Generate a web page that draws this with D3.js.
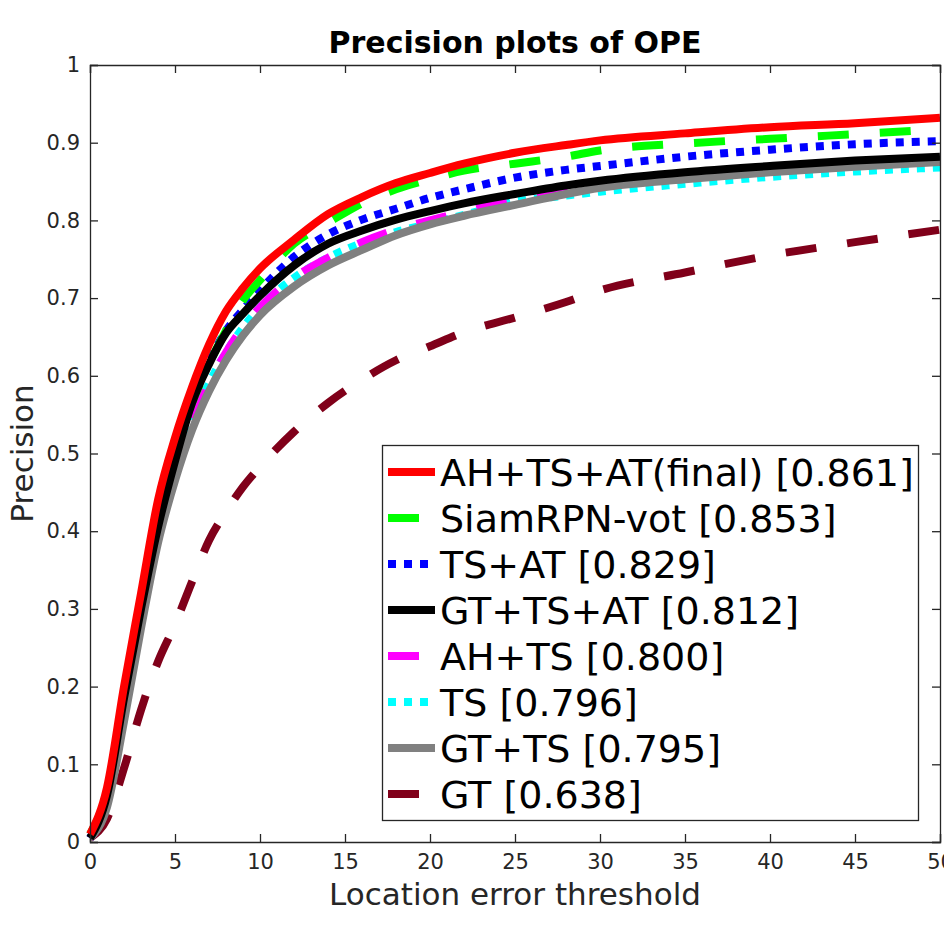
<!DOCTYPE html>
<html>
<head>
<meta charset="utf-8">
<script src="https://cdn.jsdelivr.net/npm/d3@7"></script>
<style>
    body { margin: 0; background: #fff; }
    svg { display: block; font-family: "DejaVu Sans", sans-serif; }
</style>
</head>
<body>
<svg width="944" height="934"></svg>
<script>
// location error thresholds (px)
var thresholds = [0, 1, 2, 3, 4, 5, 6, 7, 8, 9, 10, 12, 14, 16, 18, 20, 22, 25, 28, 30, 35, 40, 45, 50];

var precFinal   = [0.01, 0.07, 0.2, 0.32, 0.44, 0.52, 0.585, 0.64, 0.683, 0.713, 0.738, 0.775, 0.808, 0.83, 0.848, 0.861, 0.873, 0.887, 0.897, 0.903, 0.912, 0.92, 0.925, 0.932];
var precSiamRPN = [0.01, 0.065, 0.19, 0.31, 0.42, 0.505, 0.565, 0.615, 0.658, 0.697, 0.723, 0.77, 0.797, 0.822, 0.84, 0.853, 0.864, 0.873, 0.882, 0.89, 0.899, 0.905, 0.911, 0.917];
var precTsAt    = [0.005, 0.06, 0.185, 0.302, 0.408, 0.493, 0.568, 0.618, 0.658, 0.685, 0.71, 0.753, 0.782, 0.801, 0.815, 0.829, 0.84, 0.855, 0.865, 0.87, 0.882, 0.891, 0.898, 0.902];
var precGtTsAt  = [0.005, 0.06, 0.185, 0.3, 0.405, 0.49, 0.565, 0.615, 0.655, 0.68, 0.703, 0.742, 0.77, 0.787, 0.801, 0.812, 0.822, 0.834, 0.845, 0.851, 0.862, 0.87, 0.877, 0.882];
var precAhTs    = [0.005, 0.05, 0.17, 0.29, 0.4, 0.475, 0.54, 0.59, 0.63, 0.662, 0.688, 0.726, 0.752, 0.772, 0.788, 0.8, 0.811, 0.828, 0.838, 0.845, 0.855, 0.864, 0.871, 0.878];
var precTs      = [0.005, 0.05, 0.17, 0.29, 0.4, 0.475, 0.54, 0.59, 0.63, 0.662, 0.688, 0.726, 0.752, 0.771, 0.785, 0.796, 0.807, 0.824, 0.832, 0.837, 0.847, 0.856, 0.863, 0.868];
var precGtTs    = [0.005, 0.045, 0.155, 0.275, 0.385, 0.465, 0.53, 0.58, 0.62, 0.652, 0.678, 0.715, 0.742, 0.762, 0.781, 0.795, 0.806, 0.82, 0.834, 0.842, 0.853, 0.862, 0.869, 0.875];
var precGt      = [0.005, 0.03, 0.095, 0.17, 0.232, 0.28, 0.335, 0.388, 0.425, 0.457, 0.483, 0.528, 0.565, 0.595, 0.62, 0.638, 0.656, 0.675, 0.695, 0.71, 0.733, 0.755, 0.772, 0.788];

var trackerNames = ["AH+TS+AT(final) [0.861]", "SiamRPN-vot [0.853]", "TS+AT [0.829]", "GT+TS+AT [0.812]",
                    "AH+TS [0.800]", "TS [0.796]", "GT+TS [0.795]", "GT [0.638]"];
var trackerColors = ["#ff0000", "#00ff00", "#0000ff", "#000000", "#ff00ff", "#00ffff", "#808080", "#80001a"];
var trackerDash = ["none", "31,31", "8,8", "none", "31,31", "8,8", "none", "31,31"];

var xTicks = [0, 5, 10, 15, 20, 25, 30, 35, 40, 45, 50];
var yTicks = [0, 0.1, 0.2, 0.3, 0.4, 0.5, 0.6, 0.7, 0.8, 0.9, 1];

(function() {
    var svg = d3.select("svg");
    var left = 90, right = 940, top = 65, bottom = 842;
    var axisColor = "#262626";

    var allSeries = [precFinal, precSiamRPN, precTsAt, precGtTsAt, precAhTs, precTs, precGtTs, precGt];

    var x = d3.scaleLinear().domain([0, 50]).range([left, right]);
    var y = d3.scaleLinear().domain([0, 1]).range([bottom, top]);

    // curves, drawn so the solid ones sit on top like the original
    var drawOrder = [7, 5, 4, 2, 1, 6, 3, 0];
    var line = d3.line()
        .x(function(d) { return x(d[0]); })
        .y(function(d) { return y(d[1]); })
        .curve(d3.curveMonotoneX);

    svg.append("g").selectAll("path")
        .data(drawOrder)
        .enter().append("path")
        .attr("d", function(i) {
            return line(thresholds.map(function(t, k) { return [t, allSeries[i][k]]; }));
        })
        .attr("fill", "none")
        .attr("stroke", function(i) { return trackerColors[i]; })
        .attr("stroke-width", 8)
        .attr("stroke-dasharray", function(i) { return trackerDash[i]; })
        .attr("stroke-linejoin", "round");

    // axes box (ticks inside on all four sides)
    var gx = svg.append("g").attr("transform", "translate(0," + bottom + ")")
        .call(d3.axisBottom(x).tickValues(xTicks).tickSize(-8).tickPadding(12).tickFormat(d3.format("d")));
    var gy = svg.append("g").attr("transform", "translate(" + left + ",0)")
        .call(d3.axisLeft(y).tickValues(yTicks).tickSize(-8).tickPadding(10)
            .tickFormat(function(d) { return d === 0 || d === 1 ? d3.format("d")(d) : d3.format(".1f")(d); }));
    var gxTop = svg.append("g").attr("transform", "translate(0," + top + ")")
        .call(d3.axisTop(x).tickValues(xTicks).tickSize(-8).tickFormat(""));
    var gyRight = svg.append("g").attr("transform", "translate(" + right + ",0)")
        .call(d3.axisRight(y).tickValues(yTicks).tickSize(-8).tickFormat(""));

    [gx, gy, gxTop, gyRight].forEach(function(g) {
        g.select(".domain").attr("stroke", axisColor).attr("stroke-width", 1.3);
        g.selectAll(".tick line").attr("stroke", axisColor).attr("stroke-width", 1.3);
        g.selectAll("text").attr("fill", axisColor)
            .style("font-family", "DejaVu Sans").style("font-size", "21px");
    });

    // title and axis labels
    svg.append("text")
        .attr("x", (left + right) / 2).attr("y", 53)
        .attr("text-anchor", "middle")
        .style("font-size", "30px").style("font-weight", "bold")
        .attr("fill", "#000")
        .text("Precision plots of OPE");

    svg.append("text")
        .attr("x", (left + right) / 2).attr("y", 905)
        .attr("text-anchor", "middle")
        .style("font-size", "31px")
        .attr("fill", axisColor)
        .text("Location error threshold");

    svg.append("text")
        .attr("transform", "translate(33," + ((top + bottom) / 2) + ") rotate(-90)")
        .attr("text-anchor", "middle")
        .style("font-size", "31px")
        .attr("fill", axisColor)
        .text("Precision");

    // legend
    var legend = svg.append("g");
    legend.append("rect")
        .attr("x", 382.5).attr("y", 445.5)
        .attr("width", 536).attr("height", 375)
        .attr("fill", "#fff").attr("stroke", axisColor).attr("stroke-width", 1.3);

    var rows = legend.selectAll("g.row")
        .data(trackerNames)
        .enter().append("g")
        .attr("class", "row")
        .attr("transform", function(d, i) { return "translate(0," + (472 + i * 46) + ")"; });

    rows.append("line")
        .attr("x1", 388).attr("x2", 435)
        .attr("y1", 0).attr("y2", 0)
        .attr("stroke", function(d, i) { return trackerColors[i]; })
        .attr("stroke-width", 8)
        .attr("stroke-dasharray", function(d, i) { return trackerDash[i]; });

    rows.append("text")
        .attr("x", 440).attr("y", 0)
        .attr("dy", "0.36em")
        .style("font-size", "38px")
        .attr("fill", "#000")
        .text(function(d) { return d; });
})();
</script>
</body>
</html>
